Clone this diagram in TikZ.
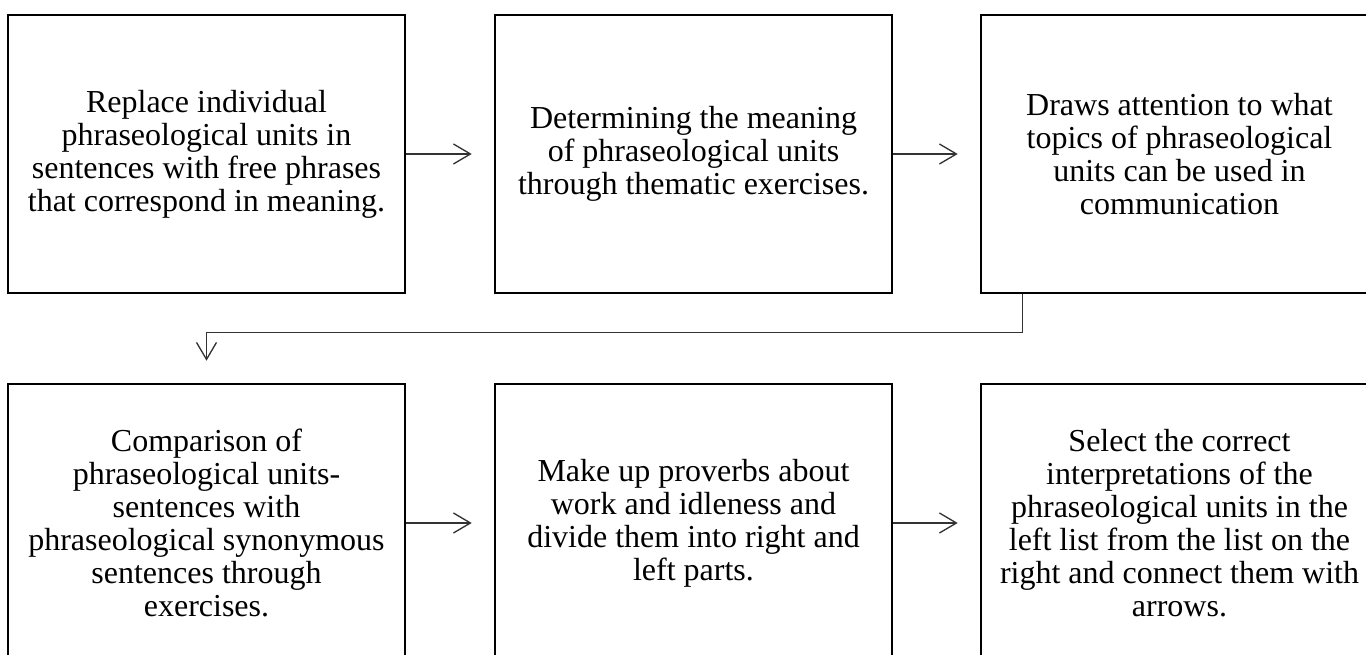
\documentclass[tikz,border=0pt]{standalone}
\usepackage{fontspec}
\setmainfont{Liberation Serif}
\usetikzlibrary{arrows.meta, positioning}

\begin{document}
\begin{tikzpicture}[
  x=0.75pt, y=0.75pt,
  stepbox/.style={
    draw, line width=1.9pt, minimum width=297.75pt, minimum height=208.5pt,
    inner sep=0pt, align=center, font=\fontsize{24}{24.75}\selectfont
  },
  flow/.style={
    line width=1pt, black!80, shorten >=16.5pt,
    -{Straight Barb[length=12.75pt, width=15pt]}
  }
]

\useasboundingbox (0,0) rectangle (1366,655);
\clip (0,0) rectangle (1366,655);

% Top row
\node[stepbox] (replace) at (206.5,501) {Replace individual\\phraseological units in\\sentences with free phrases\\that correspond in meaning.};
\node[stepbox] (meaning) at (693.5,501) {Determining the meaning\\of phraseological units\\through thematic exercises.};
\node[stepbox] (topics) at (1179.5,501) {Draws attention to what\\topics of phraseological\\units can be used in\\communication};

% Bottom row
\node[stepbox] (compare) at (206.5,132) {Comparison of\\phraseological units-\\sentences with\\phraseological synonymous\\sentences through\\exercises.};
\node[stepbox] (proverbs) at (693.5,132) {Make up proverbs about\\work and idleness and\\divide them into right and\\left parts.};
\node[stepbox] (select) at (1179.5,132) {Select the correct\\interpretations of the\\phraseological units in the\\left list from the list on the\\right and connect them with\\arrows.};

% Arrows
\draw[flow] (replace) -- (meaning);
\draw[flow] (meaning) -- (topics);
\draw[flow] ([xshift=32.25pt]topics.south west) -- ++(0,-38) -| (compare.north);
\draw[flow] (compare) -- (proverbs);
\draw[flow] (proverbs) -- (select);

\end{tikzpicture}
\end{document}
